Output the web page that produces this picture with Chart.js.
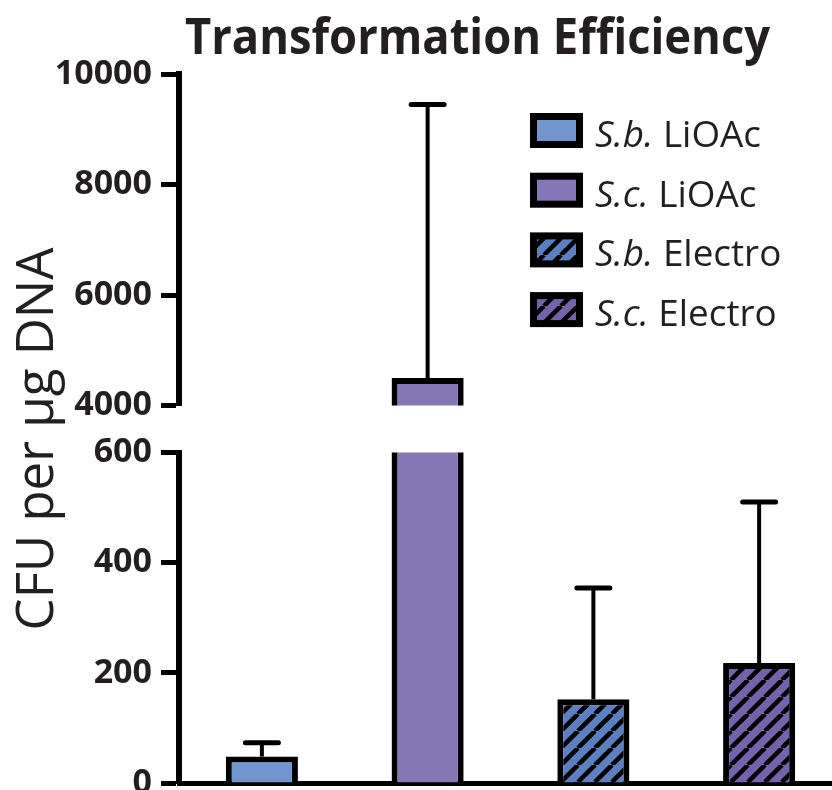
<!DOCTYPE html>
<html>
<head>
<meta charset="utf-8">
<script src="https://cdn.jsdelivr.net/npm/chart.js@4.4.1/dist/chart.umd.min.js"></script>
<style>
  html, body { margin: 0; padding: 0; overflow: hidden; background: #ffffff; }
  canvas { display: block; }
</style>
</head>
<body>
<canvas id="chart" width="842" height="790"></canvas>
<script>
// ---- data ----
const categories = ['S.b. LiOAc', 'S.c. LiOAc', 'S.b. Electro', 'S.c. Electro'];
const speciesLabels = ['S.b.', 'S.c.', 'S.b.', 'S.c.'];
const methodLabels = ['LiOAc', 'LiOAc', 'Electro', 'Electro'];
const meanCFU = [48, 4500, 152, 218];
const sdCFU = [25, 4950, 202, 292];
const upperTicks = [4000, 6000, 8000, 10000];
const lowerTicks = [0, 200, 400, 600];
const fillColors = ['#7096cd', '#8576b5', '#5b7fc1', '#7462ab'];
const hatched = [false, false, true, true];

const titleText = 'Transformation Efficiency';
const axisTitleText = 'CFU per µg DNA';
const ink = '#231f20';

const canvas = document.getElementById('chart');
const mainCtx = canvas.getContext('2d');

// diagonal "/" hatching over a solid fill
function hatch(color) {
  const P = 17;
  const tile = document.createElement('canvas');
  tile.width = tile.height = P;
  const g = tile.getContext('2d');
  g.fillStyle = color;
  g.fillRect(0, 0, P, P);
  g.strokeStyle = '#000';
  g.lineWidth = 4.5;
  g.beginPath();
  for (let k = -1; k <= 1; k++) {
    g.moveTo(k * P, P);
    g.lineTo(k * P + P, 0);
  }
  g.stroke();
  return mainCtx.createPattern(tile, 'repeat');
}

const barFill = fillColors.map((c, i) => hatched[i] ? hatch(c) : c);

// one dataset per axis segment; each is clipped to its own segment
function segment(axisId) {
  return {
    data: meanCFU,
    yAxisID: axisId,
    backgroundColor: barFill,
    borderColor: '#000',
    borderWidth: 6,
    borderSkipped: 'start',
    grouped: false,
    clip: 0,
    barPercentage: 0.435,
    categoryPercentage: 1
  };
}

const tickFont = { family: '"Open Sans", "DejaVu Sans", sans-serif', weight: 'bold', size: 34 };

// fixed axis column width; tick labels may overhang the plot edges
function fixAxis(s) {
  s.width = 179;
  s.paddingTop = 0;
  s.paddingBottom = 0;
}

function valueAxis(ticksList, weight, stackWeight) {
  return {
    type: 'linear',
    position: 'left',
    stack: 'cfu',
    weight: weight,
    stackWeight: stackWeight,
    min: ticksList[0],
    max: ticksList[ticksList.length - 1],
    afterBuildTicks: s => { s.ticks = ticksList.map(v => ({ value: v })); },
    afterFit: fixAxis,
    ticks: { font: tickFont, color: ink, padding: 9, callback: v => String(v) },
    grid: { display: true, drawOnChartArea: false, drawTicks: true, tickLength: 18, tickWidth: 5, color: '#000' },
    border: { display: true, width: 6, color: '#000' }
  };
}

const titlePlugin = {
  id: 'plotTitle',
  afterDraw(chart) {
    const ctx = chart.ctx;
    ctx.save();
    ctx.font = 'bold 50px "Open Sans", sans-serif';
    const w = ctx.measureText(titleText).width;
    const sx = Math.min(1, 585 / w);
    ctx.translate(477.5, 54);
    ctx.scale(sx, 1);
    ctx.textAlign = 'center';
    ctx.textBaseline = 'alphabetic';
    ctx.fillStyle = ink;
    ctx.fillText(titleText, 0, 0);
    ctx.restore();
  }
};

const axisTitlePlugin = {
  id: 'axisTitle',
  afterDraw(chart) {
    const ctx = chart.ctx;
    ctx.save();
    ctx.font = '51px "Open Sans", sans-serif';
    const w = ctx.measureText(axisTitleText).width;
    const sx = Math.min(1, 392 / w);
    ctx.translate(53, 439);
    ctx.rotate(-Math.PI / 2);
    ctx.scale(sx, 1);
    ctx.textAlign = 'center';
    ctx.textBaseline = 'alphabetic';
    ctx.fillStyle = ink;
    ctx.fillText(axisTitleText, 0, 0);
    ctx.restore();
  }
};

const legendPlugin = {
  id: 'boxLegend',
  afterDraw(chart) {
    const ctx = chart.ctx;
    ctx.save();
    const italic = 'italic 36px "Open Sans", sans-serif';
    const regular = '36px "Open Sans", sans-serif';
    // common horizontal factor so the first entry spans its usual width
    ctx.font = italic;
    const w0 = ctx.measureText(speciesLabels[0] + ' ').width;
    ctx.font = regular;
    const w1 = ctx.measureText(methodLabels[0]).width;
    const sx = 166 / (w0 + w1);
    categories.forEach((_, i) => {
      const y = 113 + i * 59.7;
      ctx.fillStyle = '#000';
      ctx.fillRect(530, y, 53, 35);
      ctx.fillStyle = barFill[i];
      ctx.fillRect(537, y + 7, 39, 21);
      ctx.save();
      ctx.translate(595, y + 34);
      ctx.scale(sx, 1);
      ctx.fillStyle = ink;
      ctx.textBaseline = 'alphabetic';
      ctx.textAlign = 'left';
      ctx.font = italic;
      const s = speciesLabels[i] + ' ';
      ctx.fillText(s, 0, 0);
      const ws = ctx.measureText(s).width;
      ctx.font = regular;
      ctx.fillText(methodLabels[i], ws, 0);
      ctx.restore();
    });
    ctx.restore();
  }
};

const errorBarPlugin = {
  id: 'errorBars',
  afterDatasetsDraw(chart) {
    const ctx = chart.ctx;
    const xs = chart.scales.x;
    const top = chart.scales.yTop;
    const bot = chart.scales.yBot;
    ctx.save();
    ctx.strokeStyle = '#000';
    meanCFU.forEach((m, i) => {
      const axis = m >= top.min ? top : bot;
      const x = xs.getPixelForValue(i);
      const y0 = axis.getPixelForValue(m);
      const y1 = axis.getPixelForValue(m + sdCFU[i]);
      ctx.lineCap = 'butt';
      ctx.lineWidth = 4;
      ctx.beginPath();
      ctx.moveTo(x, y0);
      ctx.lineTo(x, y1);
      ctx.stroke();
      ctx.lineCap = 'round';
      ctx.lineWidth = 5;
      ctx.beginPath();
      ctx.moveTo(x - 16.5, y1);
      ctx.lineTo(x + 16.5, y1);
      ctx.stroke();
    });
    ctx.restore();
  }
};

function draw() {
  new Chart(canvas, {
    type: 'bar',
    data: {
      labels: categories,
      datasets: [segment('yTop'), segment('yBot')]
    },
    options: {
      responsive: false,
      animation: false,
      devicePixelRatio: 1,
      layout: { padding: { top: 74, left: 0, right: 0, bottom: 7 }, autoPadding: false },
      plugins: { legend: { display: false }, tooltip: { enabled: false }, title: { display: false } },
      scales: {
        x: {
          type: 'category',
          offset: true,
          afterFit: s => { s.height = 0; s.paddingLeft = 0; s.paddingRight = 0; },
          ticks: { display: false },
          grid: { display: true, drawOnChartArea: false, drawTicks: false },
          border: { display: true, width: 5, color: '#000' }
        },
        yTop: valueAxis(upperTicks, 3, 331.5),
        yGap: {
          type: 'linear',
          position: 'left',
          stack: 'cfu',
          weight: 2,
          stackWeight: 47,
          min: 0,
          max: 1,
          afterFit: fixAxis,
          ticks: { display: false },
          grid: { display: false },
          border: { display: false }
        },
        yBot: valueAxis(lowerTicks, 1, 330.5)
      }
    },
    plugins: [errorBarPlugin, titlePlugin, axisTitlePlugin, legendPlugin]
  });
}

Promise.all([
  document.fonts.load('bold 34px "Open Sans"'),
  document.fonts.load('34px "Open Sans"'),
  document.fonts.load('italic 34px "Open Sans"')
]).then(draw, draw);
</script>
</body>
</html>
